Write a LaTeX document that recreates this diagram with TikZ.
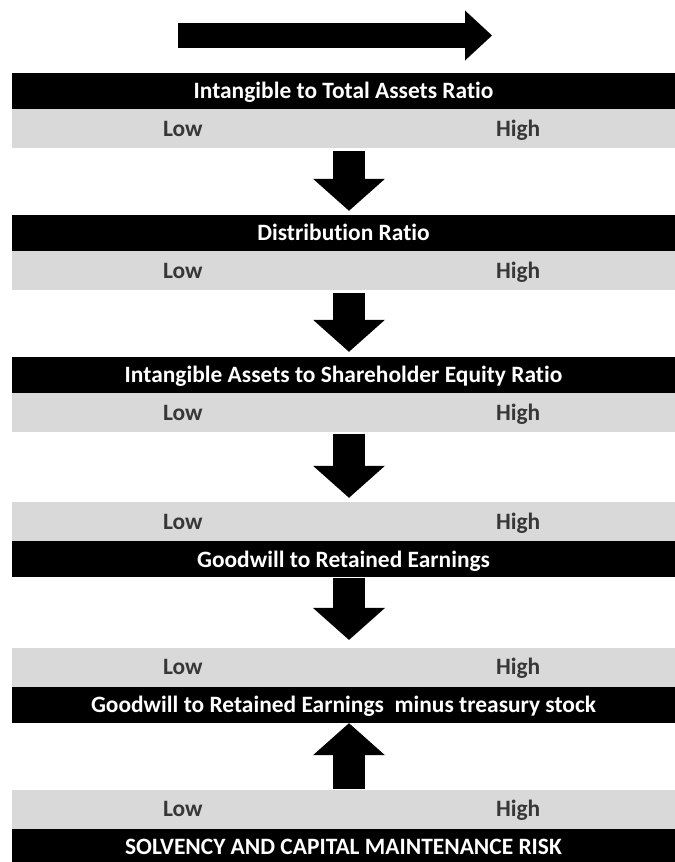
\documentclass[tikz,border=0pt]{standalone}
\usepackage{fontspec}
\setmainfont{Carlito}[Ligatures=CommonOff]
\usetikzlibrary{arrows.meta,positioning}
\definecolor{barGray}{RGB}{217,217,217}
\definecolor{lhCol}{RGB}{55,55,55}
\tikzset{
  band/.style={inner sep=0pt,minimum width=19.89cm,text height=12.9pt,text depth=0pt,
               font=\fontsize{20}{22}\selectfont\bfseries},
  ratiobar/.style={band,fill=black,text=white,minimum height=1.08cm},
  gradebar/.style={band,fill=barGray,minimum height=1.17cm},
  lh/.style={inner sep=0pt,text height=12.9pt,text depth=0pt,
             font=\fontsize{20}{22}\selectfont\bfseries,text=lhCol},
  fat/.style={line width=0.96cm,-{Triangle[length=0.96cm,width=2.16cm,line width=0pt]}},
}

\begin{document}
\begin{tikzpicture}[x=0.03cm,y=-0.03cm]
    \useasboundingbox (0,0) rectangle (675,862);
    % --- direction arrow ---
    \coordinate (tailT) at (178,35.5);
    \coordinate (headT) at (492,35.5);
    \draw[line width=0.75cm,-{Triangle[length=0.81cm,width=1.5cm,line width=0pt]}] (tailT) -- (headT);
    % --- ratio bands ---
    \node[ratiobar] (bar1) at (343.5,91) {Intangible to Total Assets Ratio};
    \node[gradebar,below=0pt of bar1] (grade1) {};
    \node[ratiobar] (bar2) at (343.5,233) {Distribution Ratio};
    \node[gradebar,below=0pt of bar2] (grade2) {};
    \node[ratiobar] (bar3) at (343.5,375) {Intangible Assets to Shareholder Equity Ratio};
    \node[gradebar,below=0pt of bar3] (grade3) {};
    \node[gradebar] (grade4) at (343.5,521.5) {};
    \node[ratiobar,below=0pt of grade4] (bar4) {Goodwill to Retained Earnings};
    \node[gradebar] (grade5) at (343.5,667) {};
    \node[ratiobar,below=0pt of grade5] (bar5) {Goodwill to Retained Earnings\ \ minus treasury stock};
    \node[gradebar] (grade6) at (343.5,809) {};
    \node[ratiobar,below=0pt of grade6] (bar6) {SOLVENCY AND CAPITAL MAINTENANCE RISK};
    % --- low / high marks ---
    \foreach \g in {grade1,grade2,grade3,grade4,grade5,grade6}{
        \node[lh] (low-\g) at ([xshift=-4.82cm]\g.center) {Low};
        \node[lh] (high-\g) at ([xshift=5.24cm]\g.center) {High};
    }
    % --- flow between bands ---
    \draw[fat,shorten <=0.06cm,shorten >=0.12cm] ([xshift=0.165cm]grade1.south) -- ([xshift=0.165cm]bar2.north);
    \draw[fat,shorten <=0.06cm,shorten >=0.15cm] ([xshift=0.165cm]grade2.south) -- ([xshift=0.165cm]bar3.north);
    \draw[fat,shorten <=0.03cm,shorten >=0.12cm] ([xshift=0.165cm]grade3.south) -- ([xshift=0.165cm]grade4.north);
    \draw[fat,shorten >=0.22cm] ([xshift=0.165cm]bar4.south) -- ([xshift=0.165cm]grade5.north);
    \draw[fat] ([xshift=0.165cm]grade6.north) -- ([xshift=0.165cm]bar5.south);
\end{tikzpicture}
\end{document}
